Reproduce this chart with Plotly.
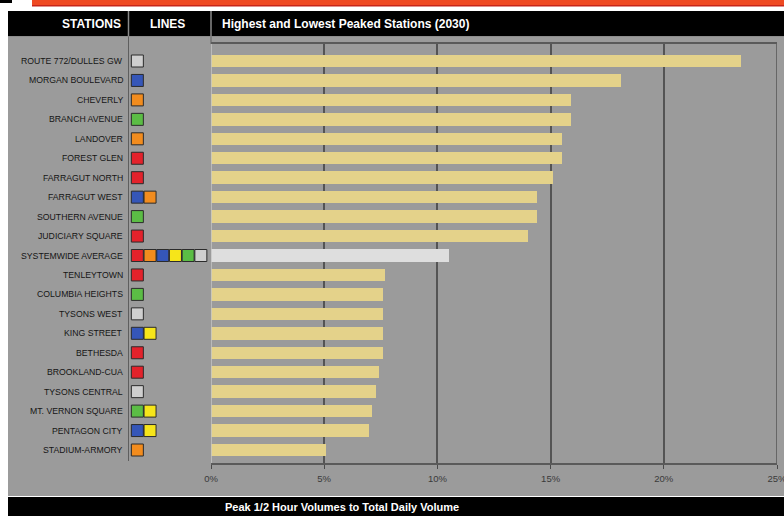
import plotly.graph_objects as go

# Stations, ordered top to bottom
stations = [
    "ROUTE 772/DULLES GW", "MORGAN BOULEVARD", "CHEVERLY", "BRANCH AVENUE",
    "LANDOVER", "FOREST GLEN", "FARRAGUT NORTH", "FARRAGUT WEST",
    "SOUTHERN AVENUE", "JUDICIARY SQUARE", "SYSTEMWIDE AVERAGE", "TENLEYTOWN",
    "COLUMBIA HEIGHTS", "TYSONS WEST", "KING STREET", "BETHESDA",
    "BROOKLAND-CUA", "TYSONS CENTRAL", "MT. VERNON SQUARE", "PENTAGON CITY",
    "STADIUM-ARMORY",
]

# Peak 1/2 hour volume as a share of total daily volume (%)
peak_share = [
    23.4, 18.1, 15.9, 15.9, 15.5, 15.5, 15.1, 14.4, 14.4, 14.0,
    10.5, 7.7, 7.6, 7.6, 7.6, 7.6, 7.4, 7.3, 7.1, 7.0, 5.1,
]

# Metro lines serving each station
station_lines = [
    ["silver"], ["blue"], ["orange"], ["green"], ["orange"], ["red"], ["red"],
    ["blue", "orange"], ["green"], ["red"],
    ["red", "orange", "blue", "yellow", "green", "silver"],
    ["red"], ["green"], ["silver"], ["blue", "yellow"], ["red"], ["red"],
    ["silver"], ["green", "yellow"], ["blue", "yellow"], ["orange"],
]

x_ticks = [0, 5, 10, 15, 20, 25]
x_tick_labels = ["0%", "5%", "10%", "15%", "20%", "25%"]

line_colors = {
    "red": "#e3222b", "orange": "#f28c1e", "blue": "#3556b8",
    "yellow": "#f6e51a", "green": "#5bbd45", "silver": "#cfcfcf",
}

W, H = 784, 516


def px(x):
    return x / W


def py(y):
    return 1 - y / H


BAR = "#e4d28a"
AVG = "#dedede"
PANEL = "#9b9b9b"

bar_colors = [AVG if s == "SYSTEMWIDE AVERAGE" else BAR for s in stations]

fig = go.Figure()

fig.add_trace(go.Bar(
    x=peak_share, y=stations, orientation="h", width=0.64,
    marker=dict(color=bar_colors, line=dict(width=0)),
    hoverinfo="x+y", showlegend=False,
))

# Line-colour squares, one per line serving the station
sq_x, sq_y, sq_c = [], [], []
for s, lines in zip(stations, station_lines):
    for i, ln in enumerate(lines):
        sq_x.append(i)
        sq_y.append(s)
        sq_c.append(line_colors[ln])

fig.add_trace(go.Scatter(
    x=sq_x, y=sq_y, xaxis="x2", yaxis="y", mode="markers",
    marker=dict(symbol="square", size=12, color=sq_c,
                line=dict(color="#2b2b2b", width=1)),
    showlegend=False, hoverinfo="skip", cliponaxis=False,
))

plot_x0, plot_x1 = 211, 777
plot_y0, plot_y1 = 44, 463
row_step = (450 - 61) / 20
top_pad = (61 - plot_y0) / row_step
bot_pad = (plot_y1 - 450) / row_step

sq_step = 12.7
sq_x0, sq_x1 = 131, 211

fig.update_layout(
    width=W, height=H,
    margin=dict(l=0, r=0, t=0, b=0, autoexpand=False),
    paper_bgcolor="white", plot_bgcolor=PANEL,
    bargap=0,
    font=dict(family="Liberation Sans, Arial, sans-serif"),
    xaxis=dict(
        domain=[px(plot_x0), px(plot_x1)], range=[0, 25],
        tickvals=x_ticks, ticktext=x_tick_labels,
        tickfont=dict(size=9.5, color="#3a3a3a"),
        ticks="outside", ticklen=4, tickcolor="#4a4a4a", tickwidth=1,
        showgrid=True, gridcolor="#545454", gridwidth=1.5,
        zeroline=False, showline=True, mirror=True,
        linecolor="#5a5a5a", linewidth=1.5, automargin=False,
        ticklabelstandoff=2, ticklabeloverflow="allow", fixedrange=True,
    ),
    xaxis2=dict(
        domain=[px(sq_x0), px(sq_x1)],
        range=[-0.5, (sq_x1 - sq_x0) / sq_step - 0.5],
        anchor="y", visible=False, fixedrange=True, automargin=False,
    ),
    yaxis=dict(
        domain=[py(plot_y1), py(plot_y0)],
        type="category", categoryorder="array", categoryarray=stations,
        range=[len(stations) - 1 + bot_pad, -top_pad],
        showticklabels=False, showgrid=False, zeroline=False,
        showline=False, ticks="", fixedrange=True, automargin=False,
    ),
)

shapes = []
# Orange-red rule across the top
shapes.append(dict(type="rect", xref="paper", yref="paper",
                   x0=px(32), x1=1, y0=py(5), y1=py(0),
                   fillcolor="#ef4a22", line=dict(width=0), layer="below"))
shapes.append(dict(type="rect", xref="paper", yref="paper",
                   x0=px(32), x1=1, y0=py(6.5), y1=py(5),
                   fillcolor="#c7261a", line=dict(width=0), layer="below"))
shapes.append(dict(type="rect", xref="paper", yref="paper",
                   x0=0, x1=px(12), y0=py(3), y1=py(0),
                   fillcolor="#000000", line=dict(width=0), layer="below"))
# Header band
shapes.append(dict(type="rect", xref="paper", yref="paper",
                   x0=px(8), x1=1, y0=py(36.5), y1=py(11),
                   fillcolor="#000000", line=dict(width=0), layer="below"))
# Grey panel
shapes.append(dict(type="rect", xref="paper", yref="paper",
                   x0=px(8), x1=1, y0=py(496), y1=py(36.5),
                   fillcolor=PANEL, line=dict(width=0), layer="below"))
# Footer band
shapes.append(dict(type="rect", xref="paper", yref="paper",
                   x0=px(8), x1=1, y0=0, y1=py(497),
                   fillcolor="#000000", line=dict(width=0), layer="below"))
# Header column dividers
for xd in (128.5, 211):
    shapes.append(dict(type="line", xref="paper", yref="paper",
                       x0=px(xd), x1=px(xd), y0=py(36.5), y1=py(11),
                       line=dict(color="#8a8a8a", width=1.5)))
# Divider between station names and line squares
shapes.append(dict(type="line", xref="paper", yref="paper",
                   x0=px(128.5), x1=px(128.5), y0=py(461), y1=py(36.5),
                   line=dict(color="#5e5e5e", width=1)))
# Divider between line squares and the chart
shapes.append(dict(type="line", xref="paper", yref="paper",
                   x0=px(211), x1=px(211), y0=py(44), y1=py(36.5),
                   line=dict(color="#5e5e5e", width=1)))
# Light edge at the 0% baseline
shapes.append(dict(type="line", xref="x", yref="paper",
                   x0=0, x1=0, y0=py(plot_y1), y1=py(plot_y0),
                   line=dict(color="#c4c4c4", width=1.5)))
# Right frame of the chart
shapes.append(dict(type="line", xref="x", yref="paper",
                   x0=25, x1=25, y0=py(plot_y1), y1=py(plot_y0),
                   line=dict(color="#545454", width=1.5)))
fig.update_layout(shapes=shapes)

annotations = []
hdr_font = dict(family="Liberation Sans, Arial, sans-serif", size=12,
                color="white")
annotations.append(dict(text="<b>STATIONS</b>", xref="paper", yref="paper",
                        x=px(123), y=py(24), xanchor="right", yanchor="middle",
                        showarrow=False, font=hdr_font))
annotations.append(dict(text="<b>LINES</b>", xref="paper", yref="paper",
                        x=px(167), y=py(24), xanchor="center", yanchor="middle",
                        showarrow=False, font=hdr_font))
annotations.append(dict(text="<b>Highest and Lowest Peaked Stations (2030)</b>",
                        xref="paper", yref="paper",
                        x=px(220), y=py(24), xanchor="left", yanchor="middle",
                        showarrow=False, font=hdr_font))
annotations.append(dict(text="<b>Peak 1/2 Hour Volumes to Total Daily Volume</b>",
                        xref="paper", yref="paper",
                        x=px(223), y=py(506.5), xanchor="left", yanchor="middle",
                        showarrow=False,
                        font=dict(family="Liberation Sans, Arial, sans-serif",
                                  size=11, color="white")))
for s in stations:
    annotations.append(dict(
        text=s, xref="paper", yref="y", x=px(125), y=s,
        xanchor="right", yanchor="middle", showarrow=False,
        font=dict(family="Liberation Sans, Arial, sans-serif",
                  size=8.7, color="#151515"),
    ))
fig.update_layout(annotations=annotations)

fig.write_html("out.html")
